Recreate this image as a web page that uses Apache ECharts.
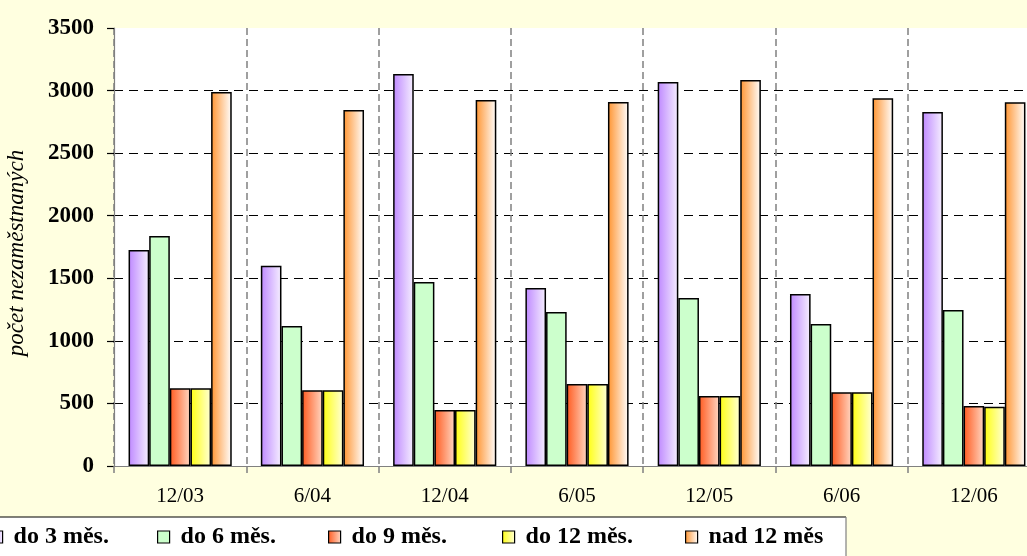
<!DOCTYPE html>
<html>
<head>
<meta charset="utf-8">
<script src="https://cdn.jsdelivr.net/npm/echarts@6/dist/echarts.min.js"></script>
<style>
html,body{margin:0;padding:0;background:#FFFFE0;}
#c{width:1027px;height:556px;}
</style>
</head>
<body>
<div id="c"></div>
<script>
var categories = ['12/03', '6/04', '12/04', '6/05', '12/05', '6/06', '12/06'];
var seriesNames = ['do 3 měs.', 'do 6 měs.', 'do 9 měs.', 'do 12 měs.', 'nad 12 měs'];
var do3 = [1726, 1601, 3133, 1422, 3069, 1374, 2829];
var do6 = [1838, 1119, 1470, 1231, 1343, 1135, 1247];
var do9 = [621, 605, 447, 655, 559, 589, 479];
var do12 = [621, 605, 447, 655, 559, 589, 474];
var nad12 = [2989, 2845, 2925, 2909, 3085, 2938, 2906];
var yTicks = {min: 0, max: 3500, interval: 500};
var yTitle = 'počet nezaměstnaných';

var FONT = "'Liberation Serif','Times New Roman',serif";
function grad(a, b) {
  return new echarts.graphic.LinearGradient(0, 0, 1, 0, [{offset: 0, color: a}, {offset: 1, color: b}]);
}
var fills = [
  grad('#BE88FF', '#F6F0FF'),
  '#CCFFCC',
  grad('#FF5A1F', '#FFD8C4'),
  grad('#FFFF10', '#FFFFD8'),
  grad('#FF9430', '#FFFFFF')
];
var values = [do3, do6, do9, do12, nad12];
var legendX = [-10, 157, 328, 502, 685];

var chart = echarts.init(document.getElementById('c'));
var series = seriesNames.map(function (n, i) {
  return {
    name: n, type: 'bar', data: values[i],
    barGap: '0%', barCategoryGap: '22%',
    itemStyle: {color: fills[i], borderColor: '#000', borderWidth: 1.5},
    emphasis: {disabled: true}
  };
});
var legends = seriesNames.map(function (n, i) {
  return {
    data: [n], left: legendX[i], top: 525, padding: 0, icon: 'rect',
    itemWidth: 12, itemHeight: 12, selectedMode: false,
    itemStyle: {borderColor: '#000', borderWidth: 1.2},
    textStyle: {fontFamily: FONT, fontWeight: 'bold', fontSize: 24, color: '#000', lineHeight: 24, padding: [0, 0, 0, 6]}
  };
});
chart.setOption({
  backgroundColor: '#FFFFE0',
  animation: false,
  graphic: [
    {type: 'rect', shape: {x: -5, y: 517, width: 851, height: 50}, style: {fill: '#FFFFFF'}, z: 0},
    {type: 'line', shape: {x1: -5, y1: 517, x2: 846, y2: 517}, style: {stroke: '#000', lineWidth: 1.2}, z: 1},
    {type: 'line', shape: {x1: 846, y1: 517, x2: 846, y2: 560}, style: {stroke: '#808080', lineWidth: 1.2}, z: 1},
    {type: 'text', x: 17, y: 253, rotation: Math.PI / 2, z: 5,
     style: {text: yTitle, fontFamily: FONT, fontStyle: 'italic', fontSize: 23, fill: '#000', align: 'center', verticalAlign: 'middle'}}
  ],
  legend: legends,
  grid: {left: 114, top: 28, height: 438, width: 926, outerBoundsMode: 'none', containLabel: false,
    show: true, backgroundColor: '#FFFFFF', borderWidth: 0},
  xAxis: {
    type: 'category', data: categories,
    axisLine: {lineStyle: {color: '#808080', width: 1.2}},
    axisTick: {show: true, length: 7, interval: 0, lineStyle: {color: '#808080', width: 1.5}},
    axisLabel: {fontFamily: FONT, fontSize: 21, color: '#000', margin: 20, interval: 0},
    splitLine: {show: true, interval: 0, lineStyle: {color: '#808080', type: [7, 4], width: 1.5}}
  },
  yAxis: {
    type: 'value', min: yTicks.min, max: yTicks.max, interval: yTicks.interval,
    axisLine: {show: true, lineStyle: {color: '#808080', width: 1.2}},
    axisTick: {show: true, length: 7, lineStyle: {color: '#000', width: 1.2}},
    axisLabel: {fontFamily: FONT, fontWeight: 'bold', fontSize: 23, color: '#000', margin: 20,
      formatter: function (v) { return String(v); }},
    splitLine: {show: true, showMaxLine: false, showMinLine: false, lineStyle: {color: '#000', type: [9, 6], width: 1.2}}
  },
  series: series
});
</script>
</body>
</html>
